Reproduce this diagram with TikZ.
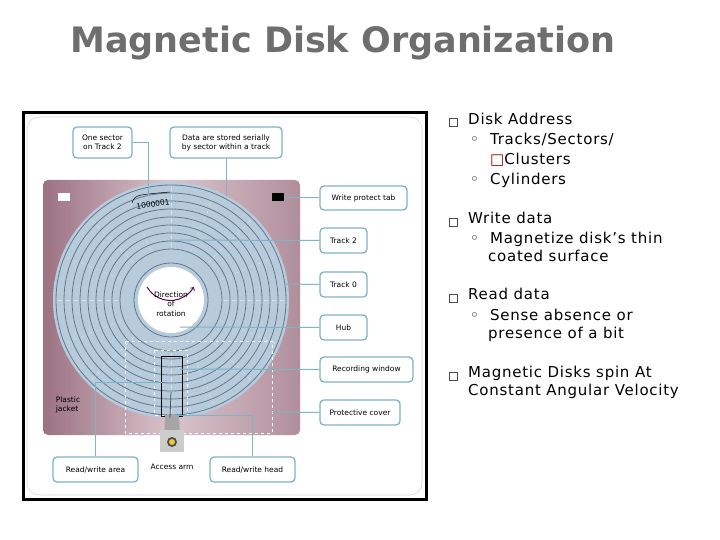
\documentclass[tikz,border=0pt]{standalone}
\usepackage{fontspec}
\setmainfont{DejaVu Sans}
\newfontfamily\bulfont[LetterSpace=5]{DejaVu Sans}
\usetikzlibrary{shadings,calc}
\definecolor{lbl}{HTML}{7FB3C6}
\definecolor{disk}{HTML}{B7CBDB}
\definecolor{trk}{HTML}{5E7A92}
\definecolor{jac}{HTML}{9C7282}
\definecolor{jacl}{HTML}{D9C3CB}
\definecolor{ttl}{HTML}{6E6E6E}
\tikzset{
 lab/.style={draw=lbl,line width=1.3pt,rounded corners=4pt,fill=white,inner sep=0pt,font=\fontsize{7.5}{9}\selectfont,align=center},
 con/.style={lbl,line width=1pt},
 btxt/.style={anchor=north west,font=\bulfont\fontsize{15}{18}\selectfont,inner sep=0pt,align=left},
 bsq/.style={draw=black!70,line width=0.5pt,minimum size=8pt,inner sep=0pt}
}
\begin{document}
\begin{tikzpicture}[x=1pt,y=-1pt]
\useasboundingbox (0,0) rectangle (720,540);
\fill[white] (0,0) rectangle (720,540);
% title
\node[anchor=west,font=\bfseries\fontsize{35}{38}\selectfont,text=ttl,inner sep=0pt] (title) at (70,43) {Magnetic Disk Organization};
% frame
\draw[line width=3pt,fill=white] (23,113) rectangle (426,499);
\draw[black!15,line width=0.6pt,rounded corners=12pt] (27,117) rectangle (422,495);
% jacket
\shade[left color=jac,right color=jac!80!white,middle color=jacl,rounded corners=5pt] (43,180) rectangle (300,435);
\fill[white] (58,193) rectangle (70,201);
\fill[black] (272,193) rectangle (284,201);
% disk
\fill[disk] (171,300) circle (118);
\foreach \r in {115,107,99,91,83,75,67,59,51}{\draw[trk,line width=0.8pt] (171,300) circle (\r);}
\foreach \a in {0,22.5,...,359}{\foreach \r in {55,63,71,79,87,95,103,111}{\draw[disk!60!white,line width=0.4pt] ($(171,300)+(\a:\r-2)$) -- ($(171,300)+(\a:\r+2)$);}}
\fill[disk] (171,300) circle (40);
\draw[trk,line width=0.8pt] (171,300) circle (37);
\fill[white] (171,300) circle (33);
\draw[violet!70!black,line width=1pt,->] (147,287) arc[start angle=150,end angle=30,radius=27];
\node[font=\fontsize{7.5}{9.5}\selectfont,align=center] (dir) at (171,304) {Direction\\of\\rotation};
\node[font=\fontsize{7.5}{8}\selectfont,rotate=8] (bits) at (153,204) {1000001};
\draw[black,line width=0.5pt] (132,203) .. controls (135,195) .. (170,192);
% windows
\draw[white,dashed,line width=0.9pt] (125,341) rectangle (272,433);
\draw[white,dashed,line width=0.9pt] (154,350) rectangle (187,415);
\draw[black,line width=1pt] (161,356) rectangle (182,416);
% access arm
\fill[gray!70] (165,415) -- (179,415) -- (180,440) -- (164,440) -- cycle;
\fill[gray!40] (160,430) rectangle (184,452);
\draw[gray!60!black,line width=0.8pt] (171,392) -- (170,418);
\fill[black!70] (172,442) circle (5);
\fill[yellow!60!brown] (172,442) circle (3);
\node[font=\fontsize{7.5}{8}\selectfont] (arm) at (172,467) {Access arm};
\node[font=\fontsize{7.5}{9}\selectfont,align=left] (pj) at (68,405) {Plastic\\jacket};
% labels
\node[lab,minimum width=59pt,minimum height=31pt] (l1) at (102.5,142.5) {One sector\\on Track 2};
\node[lab,minimum width=112pt,minimum height=31pt] (l2) at (226,142.5) {Data are stored serially\\by sector within a track};
\node[lab,minimum width=87pt,minimum height=24pt] (wp) at (363.5,198) {Write protect tab};
\node[lab,minimum width=47pt,minimum height=25pt] (t2) at (343.5,240.5) {Track 2};
\node[lab,minimum width=47pt,minimum height=25pt] (t0) at (343.5,284.5) {Track 0};
\node[lab,minimum width=47pt,minimum height=25pt] (hub) at (343.5,327.5) {Hub};
\node[lab,minimum width=93pt,minimum height=25pt] (rw) at (366.5,369.5) {Recording window};
\node[lab,minimum width=80pt,minimum height=25pt] (pc) at (360,412.5) {Protective cover};
\node[lab,minimum width=85pt,minimum height=25pt] (rwa) at (95.5,469.5) {Read/write area};
\node[lab,minimum width=85pt,minimum height=25pt] (rwh) at (252.5,469.5) {Read/write head};
\coordinate (c1) at (148,196); \coordinate (c2) at (226,196);
\coordinate (cwp) at (284,198); \coordinate (ct2) at (170,240);
\coordinate (ct0) at (286,284); \coordinate (chub) at (180,327);
\coordinate (crw) at (180,369); \coordinate (cpc) at (272,412);
\coordinate (crwa) at (162,382); \coordinate (crwh) at (178,415);
\draw[con] (l1.east) -- (148,142.5) -- (c1);
\draw[con] (l2.south) -- (c2);
\draw[con] (wp.west) -- (cwp);
\draw[con] (t2.west) -- (ct2);
\draw[con] (t0.west) -- (ct0);
\draw[con] (hub.west) -- (chub);
\draw[con] (rw.west) -- (crw);
\draw[con] (pc.west) -- (cpc);
\draw[con] (rwa.north) -- (95.5,382) -- (crwa);
\draw[con] (rwh.north) -- (252.5,415) -- (crwh);
% bullets
\node[bsq] (b1) at (453,122) {};
\node[btxt] (t1) at (468,113) {Disk Address};
\node[btxt] (t1a) at (470,133) {◦\ \ Tracks/Sectors/};
\node[btxt] (t1b) at (490,153) {\textcolor{red!60!black}{□}Clusters};
\node[btxt] (t1c) at (470,173) {◦\ \ Cylinders};
\node[bsq] (b2) at (453,222) {};
\node[btxt] (tw) at (468,212) {Write data};
\node[btxt] (twa) at (470,232) {◦\ \ Magnetize disk’s thin\\\hspace*{18pt}coated surface};
\node[bsq] (b3) at (453,298) {};
\node[btxt] (tr) at (468,288) {Read data};
\node[btxt] (tra) at (470,309) {◦\ \ Sense absence or\\\hspace*{18pt}presence of a bit};
\node[bsq] (b4) at (453,376) {};
\node[btxt] (tm) at (468,366) {Magnetic Disks spin At\\Constant Angular Velocity};
\end{tikzpicture}
\end{document}
